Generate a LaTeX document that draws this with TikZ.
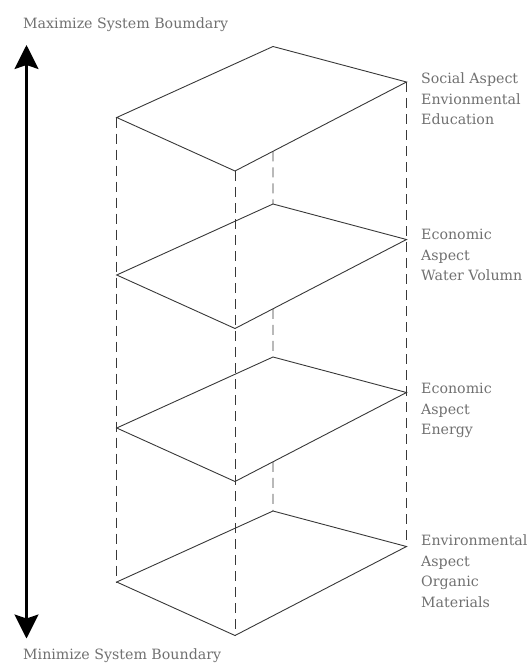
\documentclass[tikz,border=0pt]{standalone}
\usepackage{fontspec}
\setmainfont{DejaVu Serif}
\usetikzlibrary{arrows.meta,calc}
\definecolor{txtgray}{HTML}{707070}
\definecolor{linegray}{HTML}{383838}
\begin{document}
\begin{tikzpicture}[x=1pt,y=-1pt,
  plane/.style={draw=linegray,line width=0.9pt,line join=miter},
  hidden/.style={draw=linegray,line width=0.8pt,dash pattern=on 10pt off 6pt},
  lab/.style={anchor=north west,align=left,text=txtgray,font=\fontsize{14.2}{20.5}\selectfont,inner sep=0pt},
  title/.style={anchor=base west,text=txtgray,font=\fontsize{14.2}{17}\selectfont,inner sep=0pt},
  bigarrow/.style={draw=black,line width=2.4pt,{Stealth[length=24pt,width=24pt,inset=4pt]}-{Stealth[length=24pt,width=24pt,inset=4pt]}}]
\useasboundingbox (0,0) rectangle (531,664);
% plane corners
\foreach \i/\b in {1/46.5,2/204,3/357,4/511}{
  \coordinate (B\i) at (273,\b);
  \coordinate (R\i) at (406.5,\b+35.5);
  \coordinate (L\i) at (116.7,\b+71);
  \coordinate (F\i) at (235,\b+124.5);
  \coordinate (X\i) at ($(F\i)!0.2216!(R\i)$);
}
% dashed verticals
\draw[hidden] (L1) -- (L4);
\draw[hidden] (F1) -- (F4);
\draw[hidden] (R1) -- (R4);
\draw[hidden] (X1) -- (B2);
\draw[hidden] (X2) -- (B3);
\draw[hidden] (X3) -- (B4);
% planes
\foreach \i in {1,2,3,4}{
  \draw[plane] (B\i) -- (R\i) -- (F\i) -- (L\i) -- cycle;
}
% labels
\node[lab] (t1) at (421,73) {Social Aspect\\Envionmental\\Education};
\node[lab] (t2) at (421,229) {Economic\\Aspect\\Water Volumn};
\node[lab] (t3) at (421,383) {Economic\\Aspect\\Energy};
\node[lab] (t4) at (421,535) {Environmental\\Aspect\\Organic\\Materials};
% axis arrow
\coordinate (atop) at (26.5,45);
\coordinate (abot) at (26.5,638.5);
\draw[bigarrow] (abot) -- (atop);
\node[title] (max) at (23,28) {Maximize System Boumdary};
\node[title] (min) at (23,659) {Minimize System Boundary};
\end{tikzpicture}
\end{document}
